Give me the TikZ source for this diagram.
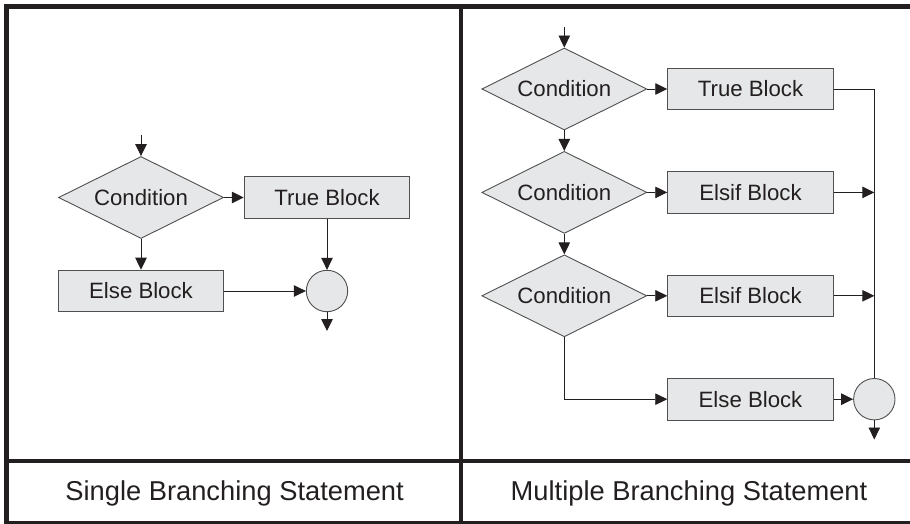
\documentclass[tikz,border=0pt]{standalone}
\usepackage{fontspec}
\setmainfont{Liberation Sans}
\usetikzlibrary{shapes.geometric,arrows.meta}
\definecolor{ink}{HTML}{231F20}
\definecolor{boxfill}{HTML}{E6E7E8}
\definecolor{edgecol}{HTML}{505050}
\begin{document}
\begin{tikzpicture}[x=1pt,y=-1pt,
 font=\fontsize{22.2}{25}\selectfont, text=ink,
 blk/.style={draw=edgecol, fill=boxfill, line width=0.9pt, minimum width=165.6pt, minimum height=41.7pt, inner sep=0pt},
 cond/.style={diamond, shape aspect=2, draw=edgecol, fill=boxfill, line width=0.9pt, minimum width=165pt, minimum height=82pt, inner sep=0pt},
 merge/.style={circle, draw=edgecol, fill=boxfill, line width=0.9pt, minimum size=41.4pt, inner sep=0pt},
 conn/.style={draw=ink, line width=0.9pt},
 arr/.style={conn, -{Triangle[length=12pt,width=11.5pt]}},
 framestyle/.style={draw=ink, line width=4.7pt},
 capt/.style={font=\fontsize{27.3}{30}\selectfont, anchor=base, inner sep=0pt}]
\useasboundingbox (0,0) rectangle (910,524);
% frame
\draw[framestyle] (6.5,6.5) rectangle (916,523.5);
\draw[framestyle] (461,6.5) -- (461,523.5);
\draw[framestyle] (6.5,461) -- (916,461);
% left diagram
\node[cond] (c0) at (141,197.5) {Condition};
\node[blk] (t0) at (327,197.5) {True Block};
\node[blk] (e0) at (141,291) {Else Block};
\node[merge] (m0) at (327,291) {};
\coordinate (in0) at (141,135);
\coordinate (out0) at (327,331);
\draw[arr] (in0) -- (c0.north);
\draw[arr] (c0.east) -- (t0.west);
\draw[arr] (c0.south) -- (e0.north);
\draw[arr] (t0.south) -- (m0.north);
\draw[arr] (e0.east) -- (m0.west);
\draw[arr] (m0.south) -- (out0);
% right diagram
\node[cond] (c1) at (564.3,89) {Condition};
\node[blk] (t1) at (750.5,89) {True Block};
\node[cond] (c2) at (564.3,192.4) {Condition};
\node[blk] (s2) at (750.5,192.4) {Elsif Block};
\node[cond] (c3) at (564.3,295.8) {Condition};
\node[blk] (s3) at (750.5,295.8) {Elsif Block};
\node[blk] (e1) at (750.5,399.2) {Else Block};
\node[merge] (m1) at (874.3,399.2) {};
\coordinate (in1) at (564.3,26.7);
\coordinate (out1) at (874.3,439.5);
\draw[arr] (in1) -- (c1.north);
\draw[arr] (c1.east) -- (t1.west);
\draw[arr] (c1.south) -- (c2.north);
\draw[arr] (c2.east) -- (s2.west);
\draw[arr] (c2.south) -- (c3.north);
\draw[arr] (c3.east) -- (s3.west);
\draw[arr] (c3.south) |- (e1.west);
\draw[conn] (t1.east) -| (m1.north);
\draw[arr] (s2.east) -- (s2.east -| m1.north);
\draw[arr] (s3.east) -- (s3.east -| m1.north);
\draw[arr] (e1.east) -- (m1.west);
\draw[arr] (m1.south) -- (out1);
% captions
\node[capt] (cap0) at (234.6,500) {Single Branching Statement};
\node[capt] (cap1) at (689,500) {Multiple Branching Statement};
\end{tikzpicture}
\end{document}
